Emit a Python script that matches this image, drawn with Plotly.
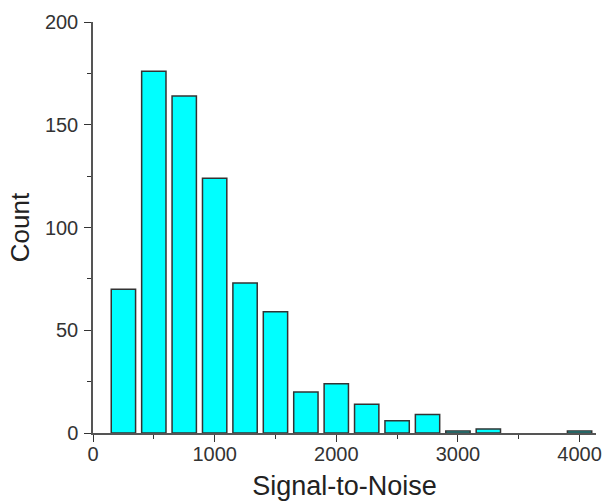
import plotly.graph_objects as go

bin_centers = [250, 500, 750, 1000, 1250, 1500, 1750, 2000, 2250, 2500, 2750, 3000, 3250, 3500, 3750, 4000]
counts = [70, 176, 164, 124, 73, 59, 20, 24, 14, 6, 9, 1, 2, 0, 0, 1]
x_ticks = [0, 1000, 2000, 3000, 4000]
y_ticks = [0, 50, 100, 150, 200]

xs = [c for c, n in zip(bin_centers, counts) if n > 0]
ys = [n for n in counts if n > 0]

fig = go.Figure()
fig.add_trace(go.Bar(
    x=xs, y=ys, width=[200] * len(xs),
    marker=dict(color="#00FFFF", line=dict(color="#333333", width=1.5)),
    showlegend=False,
))

font = "Liberation Sans, Arial, sans-serif"
fig.update_layout(
    width=614, height=504,
    margin=dict(l=93, r=18, t=22, b=71),
    paper_bgcolor="white", plot_bgcolor="white",
    font=dict(family=font, color="#222222"),
    xaxis=dict(
        range=[0, 4135], tickvals=x_ticks, ticks="outside", ticklen=7, tickwidth=1.3,
        tickcolor="#333333", showline=True, linecolor="#555555", linewidth=1.5,
        showgrid=False, zeroline=False, tickfont=dict(size=20, color="#333333"),
        automargin=False, ticklabelstandoff=-5,
        minor=dict(tickvals=[500, 1500, 2500, 3500], ticks="outside", ticklen=4, tickcolor="#333333", showgrid=False),
        title=dict(text="Signal-to-Noise", font=dict(size=27, color="#222222"), standoff=12),
    ),
    yaxis=dict(
        range=[0, 200], tickvals=y_ticks, ticks="outside", ticklen=7, tickwidth=1.3,
        tickcolor="#333333", showline=True, linecolor="#555555", linewidth=1.5,
        showgrid=False, zeroline=False, tickfont=dict(size=20, color="#333333"),
        ticklabelstandoff=2, automargin=False,
        minor=dict(tickvals=[25, 75, 125, 175], ticks="outside", ticklen=4, tickcolor="#333333", showgrid=False),
        title=dict(text="Count", font=dict(size=26, color="#222222"), standoff=8),
    ),
)

fig.write_html("out.html")
